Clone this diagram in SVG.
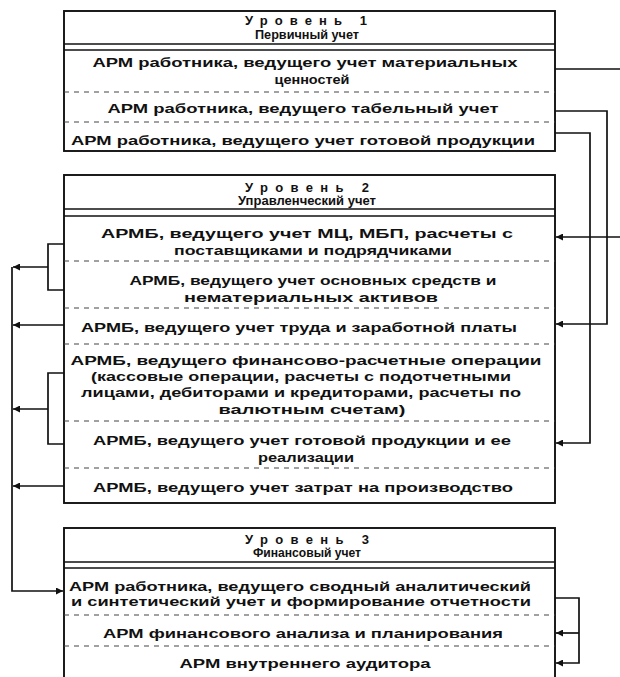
<svg xmlns="http://www.w3.org/2000/svg" width="620" height="677" viewBox="0 0 620 677">
<defs>
<style>
.box{fill:#fff;stroke:#111;stroke-width:1.9}
.hl{stroke:#111;stroke-width:1.6;fill:none}
.dash{stroke:#444;stroke-width:1.1;stroke-dasharray:5 5;fill:none}
.t{font-family:"Liberation Sans",Arial,sans-serif;font-weight:bold;font-size:13px;fill:#111;text-anchor:middle}
.h{font-family:"Liberation Sans",Arial,sans-serif;font-weight:bold;font-size:12px;fill:#111;text-anchor:middle}
.c{stroke:#111;stroke-width:1.7;fill:none}
</style>
<marker id="ah" viewBox="0 0 10 10" refX="10" refY="5" markerWidth="9" markerHeight="7" markerUnits="userSpaceOnUse" orient="auto">
<path d="M0,0 L10,5 L0,10 z" fill="#111"/>
</marker>
</defs>
<rect width="620" height="677" fill="#fff"/>

<g id="level1">
<rect class="box" x="64" y="11" width="491" height="140"/>
<line class="hl" x1="64" y1="44" x2="555" y2="44"/>
<line class="hl" x1="64" y1="50" x2="555" y2="50"/>
<text class="t" x="306" y="24.5" textLength="122" lengthAdjust="spacing">Уровень 1</text>
<text class="h" x="307" y="38.5" textLength="104" lengthAdjust="spacingAndGlyphs">Первичный учет</text>
<text class="t" x="305" y="66.5" textLength="425" lengthAdjust="spacingAndGlyphs">АРМ работника, ведущего учет материальных</text>
<text class="t" x="312" y="83.5" textLength="75" lengthAdjust="spacingAndGlyphs">ценностей</text>
<line class="dash" x1="64" y1="92" x2="555" y2="92"/>
<text class="t" x="303" y="112.5" textLength="391" lengthAdjust="spacingAndGlyphs">АРМ работника, ведущего табельный учет</text>
<line class="dash" x1="64" y1="122" x2="555" y2="122"/>
<text class="t" x="303" y="144.5" textLength="464" lengthAdjust="spacingAndGlyphs">АРМ работника, ведущего учет готовой продукции</text>
</g>

<g id="level2">
<rect class="box" x="64" y="175" width="491" height="328"/>
<line class="hl" x1="64" y1="209" x2="555" y2="209"/>
<line class="hl" x1="64" y1="216" x2="555" y2="216"/>
<text class="t" x="307" y="191.5" textLength="124" lengthAdjust="spacing">Уровень 2</text>
<text class="h" x="307" y="205" textLength="138" lengthAdjust="spacingAndGlyphs">Управленческий учет</text>
<text class="t" x="307" y="237.5" textLength="412" lengthAdjust="spacingAndGlyphs">АРМБ, ведущего учет МЦ, МБП, расчеты с</text>
<text class="t" x="313" y="254.5" textLength="278" lengthAdjust="spacingAndGlyphs">поставщиками и подрядчиками</text>
<line class="dash" x1="64" y1="261" x2="555" y2="261"/>
<text class="t" x="313" y="284.5" textLength="367" lengthAdjust="spacingAndGlyphs">АРМБ, ведущего учет основных средств и</text>
<text class="t" x="311" y="301.5" textLength="254" lengthAdjust="spacingAndGlyphs">нематериальных активов</text>
<line class="dash" x1="64" y1="308" x2="555" y2="308"/>
<text class="t" x="299" y="331.5" textLength="436" lengthAdjust="spacingAndGlyphs">АРМБ, ведущего учет труда и заработной платы</text>
<line class="dash" x1="64" y1="344" x2="555" y2="344"/>
<text class="t" x="306" y="364.5" textLength="471" lengthAdjust="spacingAndGlyphs">АРМБ, ведущего финансово-расчетные операции</text>
<text class="t" x="301" y="380.5" textLength="420" lengthAdjust="spacingAndGlyphs">(кассовые операции, расчеты с подотчетными</text>
<text class="t" x="301" y="397" textLength="440" lengthAdjust="spacingAndGlyphs">лицами, дебиторами и кредиторами, расчеты по</text>
<text class="t" x="312" y="413.5" textLength="187" lengthAdjust="spacingAndGlyphs">валютным счетам)</text>
<line class="dash" x1="64" y1="421" x2="555" y2="421"/>
<text class="t" x="302" y="444.5" textLength="418" lengthAdjust="spacingAndGlyphs">АРМБ, ведущего учет готовой продукции и ее</text>
<text class="t" x="306" y="461.5" textLength="96" lengthAdjust="spacingAndGlyphs">реализации</text>
<line class="dash" x1="64" y1="468" x2="555" y2="468"/>
<text class="t" x="303" y="491.5" textLength="420" lengthAdjust="spacingAndGlyphs">АРМБ, ведущего учет затрат на производство</text>
</g>

<g id="level3">
<rect class="box" x="64" y="528" width="491" height="154"/>
<line class="hl" x1="64" y1="562" x2="555" y2="562"/>
<line class="hl" x1="64" y1="568" x2="555" y2="568"/>
<text class="t" x="307" y="544" textLength="124" lengthAdjust="spacing">Уровень 3</text>
<text class="h" x="307" y="557" textLength="108" lengthAdjust="spacingAndGlyphs">Финансовый учет</text>
<text class="t" x="300" y="590.5" textLength="462" lengthAdjust="spacingAndGlyphs">АРМ работника, ведущего сводный аналитический</text>
<text class="t" x="301" y="605.5" textLength="460" lengthAdjust="spacingAndGlyphs">и синтетический учет и формирование отчетности</text>
<line class="dash" x1="64" y1="615" x2="555" y2="615"/>
<text class="t" x="303" y="637.5" textLength="400" lengthAdjust="spacingAndGlyphs">АРМ финансового анализа и планирования</text>
<line class="dash" x1="64" y1="646" x2="555" y2="646"/>
<text class="t" x="305" y="667.5" textLength="251" lengthAdjust="spacingAndGlyphs">АРМ внутреннего аудитора</text>
</g>

<g id="connectors">
<path class="c" d="M555,69 H630 V237 H556" marker-end="url(#ah)"/>
<path class="c" d="M555,111 H607 V324 H556" marker-end="url(#ah)"/>
<path class="c" d="M555,133 H590 V443 H556" marker-end="url(#ah)"/>
<path class="c" d="M64,244 H48 V290 H64"/>
<path class="c" d="M48,267 H13" marker-end="url(#ah)"/>
<path class="c" d="M64,325 H13" marker-end="url(#ah)"/>
<path class="c" d="M64,373 H48 V444 H64"/>
<path class="c" d="M48,409 H13" marker-end="url(#ah)"/>
<path class="c" d="M64,486 H13" marker-end="url(#ah)"/>
<path class="c" d="M12,267 V591 H63" marker-end="url(#ah)"/>
<path class="c" d="M555,598 H579 V663 H556" marker-end="url(#ah)"/>
<path class="c" d="M579,633 H556" marker-end="url(#ah)"/>
</g>
</svg>
